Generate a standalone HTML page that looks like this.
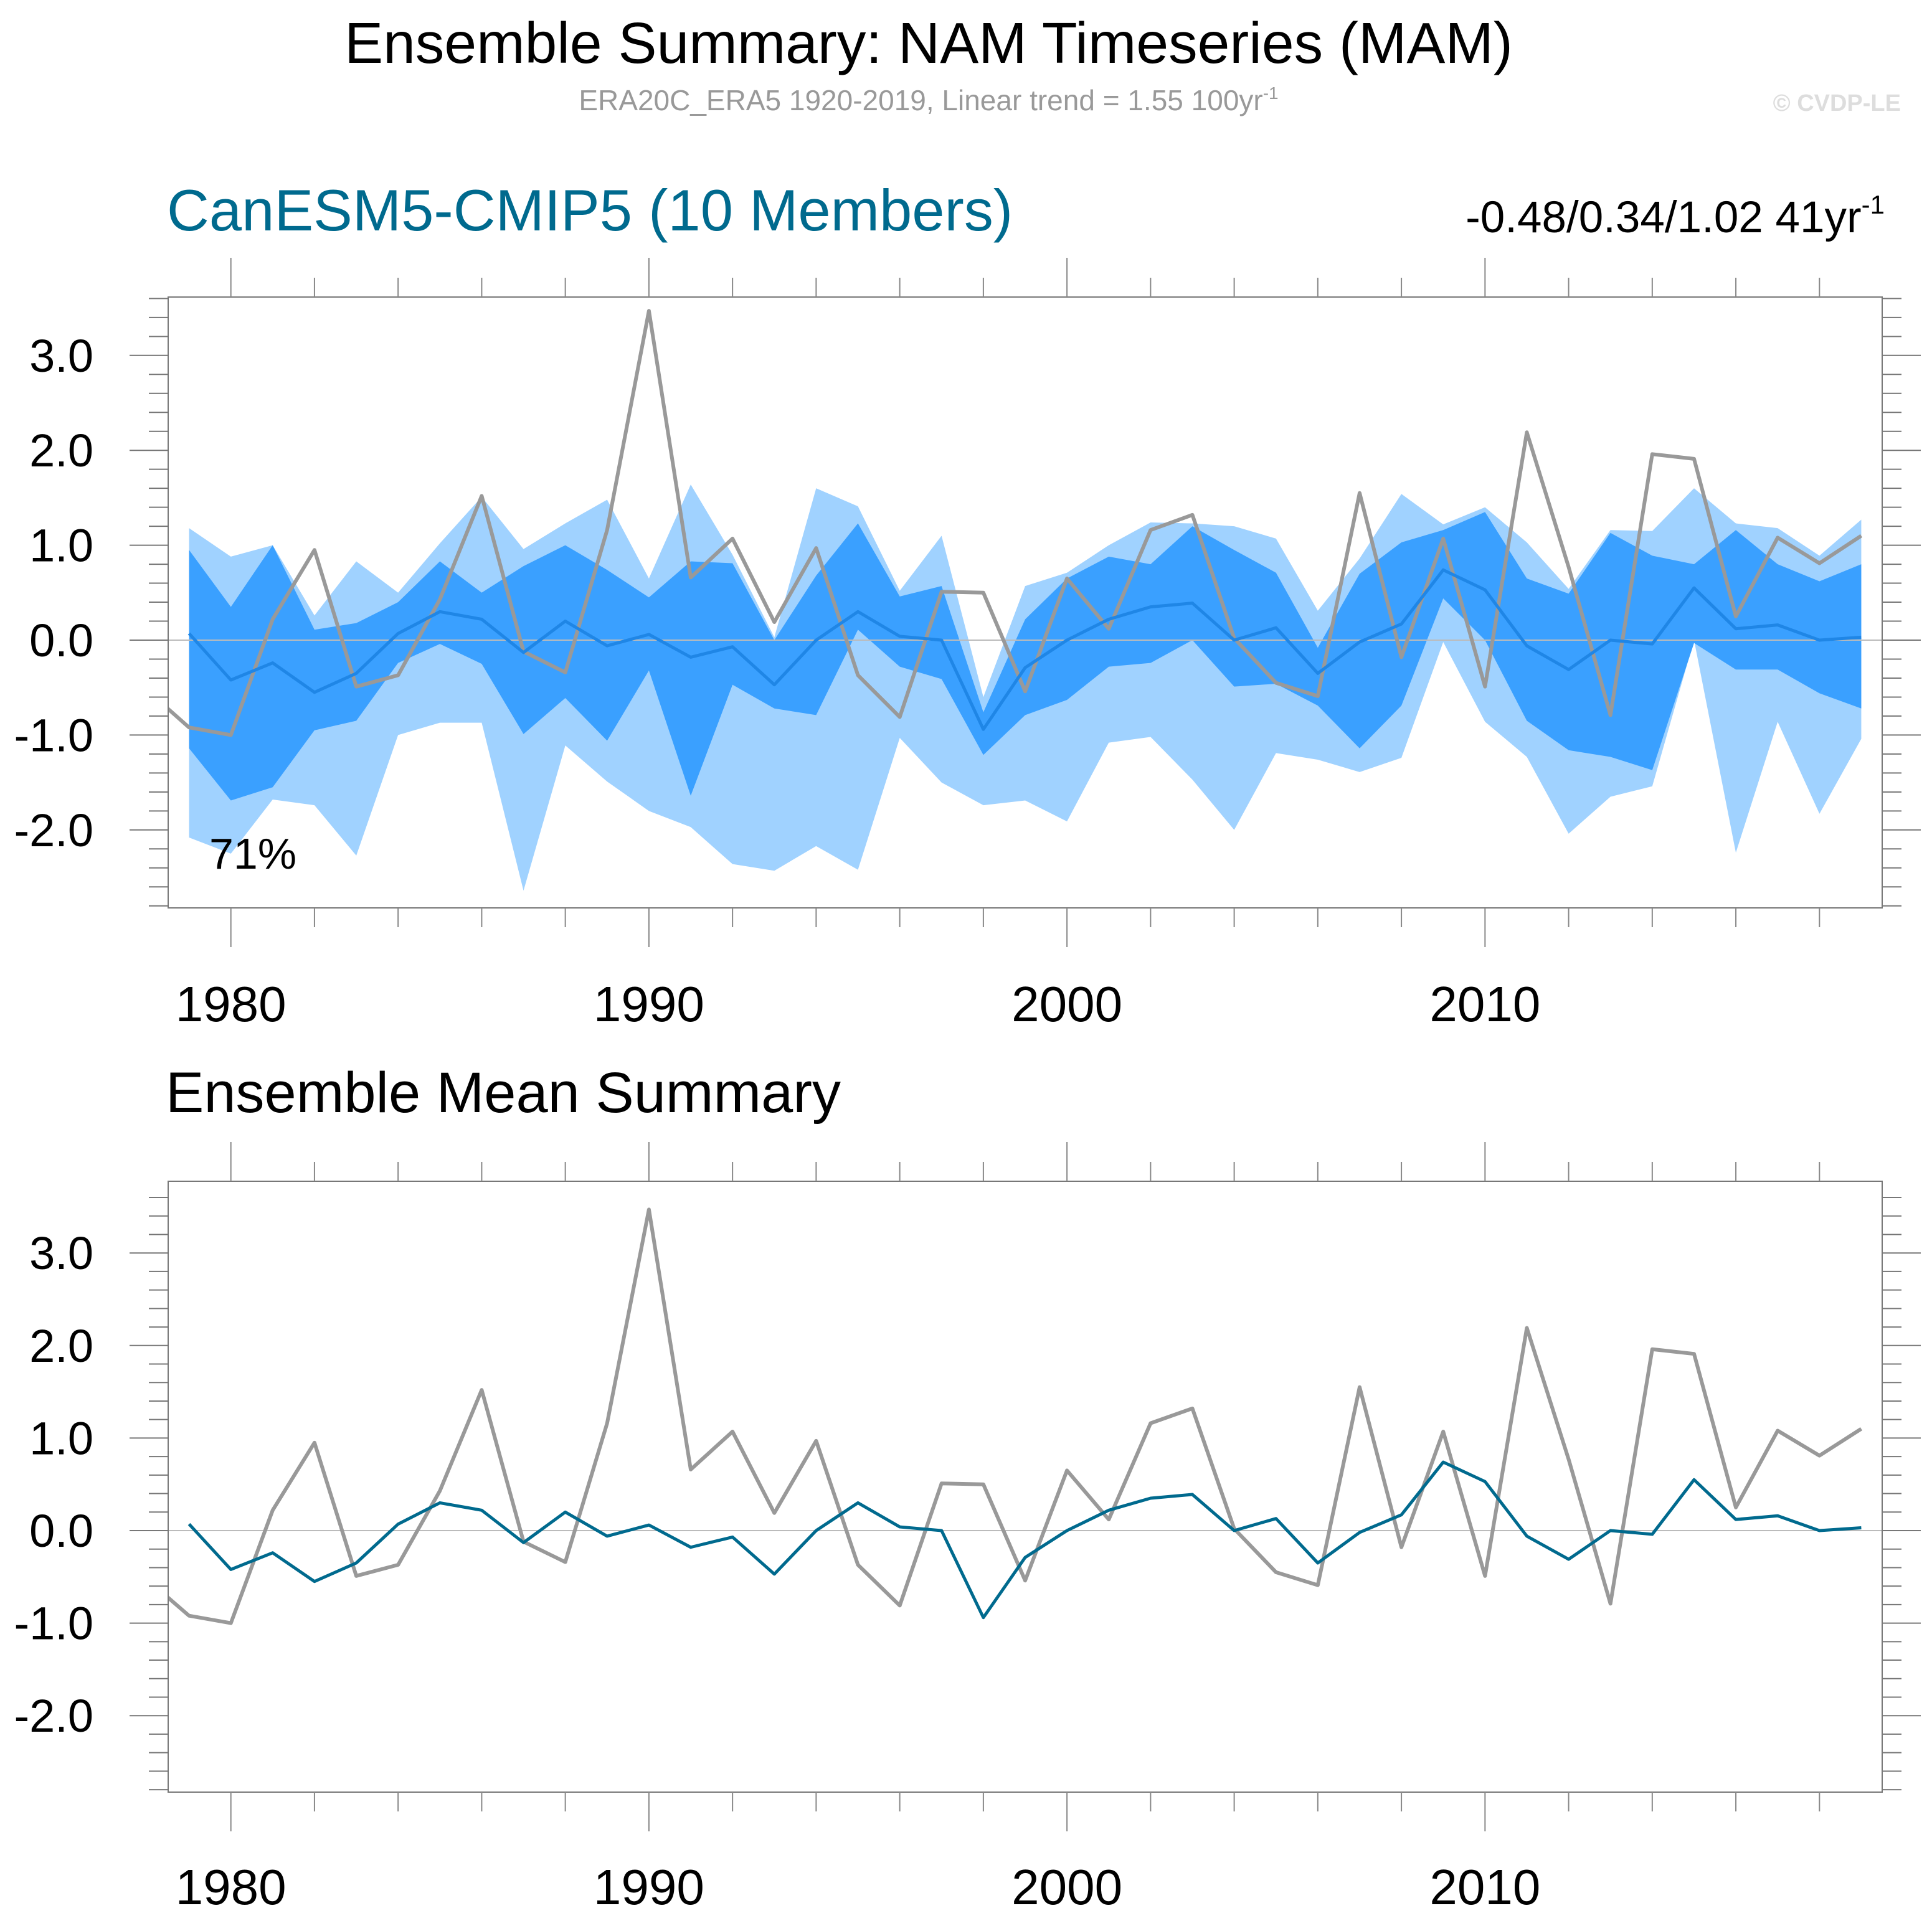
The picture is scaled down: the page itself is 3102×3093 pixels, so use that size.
<!DOCTYPE html>
<html><head><meta charset="utf-8"><style>
html,body{margin:0;padding:0;background:#fff;}
svg{display:block;font-family:"Liberation Sans",Arial,sans-serif;}
</style></head><body>
<svg id="chart" width="3102" height="3093" viewBox="0 0 3102 3093" xmlns="http://www.w3.org/2000/svg">
<text x="1491" y="101" font-size="93" text-anchor="middle" fill="#000">Ensemble Summary: NAM Timeseries (MAM)</text>
<text x="1491" y="177" font-size="46" text-anchor="middle" fill="#999">ERA20C_ERA5 1920-2019, Linear trend = 1.55 100yr<tspan dy="-18" font-size="28">-1</tspan></text>
<text x="3052" y="178" font-size="38" font-weight="bold" text-anchor="end" fill="#ddd">© CVDP-LE</text>
<text x="268" y="370" font-size="94" fill="#006a8e">CanESM5-CMIP5 (10 Members)</text>
<text x="3026" y="373" font-size="71" text-anchor="end" fill="#000">-0.48/0.34/1.02 41yr<tspan dy="-30" font-size="42">-1</tspan></text>
<text x="266" y="1786" font-size="92" fill="#000">Ensemble Mean Summary</text>
<g id="top"></g>
<g id="bot"></g>
</svg>
<script>
const years = [1979,1980,1981,1982,1983,1984,1985,1986,1987,1988,1989,1990,1991,1992,1993,1994,1995,1996,1997,1998,1999,2000,2001,2002,2003,2004,2005,2006,2007,2008,2009,2010,2011,2012,2013,2014,2015,2016,2017,2018,2019];
const ensMean = [0.07,-0.42,-0.24,-0.55,-0.35,0.07,0.30,0.22,-0.13,0.20,-0.06,0.06,-0.18,-0.07,-0.47,0.0,0.30,0.04,0.0,-0.94,-0.29,0.0,0.22,0.35,0.39,0.0,0.13,-0.35,-0.02,0.17,0.74,0.53,-0.06,-0.31,0.0,-0.04,0.55,0.12,0.16,0.0,0.03];
const obsYears = [1978,1979,1980,1981,1982,1983,1984,1985,1986,1987,1988,1989,1990,1991,1992,1993,1994,1995,1996,1997,1998,1999,2000,2001,2002,2003,2004,2005,2006,2007,2008,2009,2010,2011,2012,2013,2014,2015,2016,2017,2018,2019];
const obs = [-0.53,-0.92,-1.0,0.22,0.95,-0.49,-0.37,0.43,1.52,-0.12,-0.34,1.16,3.47,0.66,1.07,0.19,0.97,-0.37,-0.81,0.51,0.50,-0.54,0.65,0.12,1.16,1.32,0.02,-0.45,-0.59,1.55,-0.18,1.07,-0.49,2.19,0.77,-0.79,1.96,1.91,0.25,1.08,0.81,1.10];
const bandMax = [1.18,0.88,1.0,0.26,0.83,0.50,1.02,1.51,0.96,1.23,1.48,0.65,1.64,0.90,0.03,1.60,1.41,0.52,1.10,-0.6,0.57,0.71,1.0,1.24,1.23,1.20,1.07,0.31,0.86,1.54,1.22,1.40,1.03,0.54,1.16,1.15,1.60,1.23,1.18,0.89,1.27];
const bandUpper = [0.95,0.35,1.0,0.11,0.18,0.40,0.83,0.50,0.78,1.0,0.74,0.45,0.83,0.81,0.0,0.68,1.23,0.46,0.57,-0.76,0.22,0.65,0.88,0.80,1.20,0.95,0.71,-0.08,0.70,1.03,1.16,1.35,0.65,0.49,1.13,0.89,0.80,1.16,0.80,0.62,0.80];
const bandLower = [-1.14,-1.69,-1.55,-0.95,-0.85,-0.24,-0.04,-0.25,-0.99,-0.61,-1.06,-0.32,-1.64,-0.47,-0.72,-0.79,0.11,-0.28,-0.41,-1.21,-0.79,-0.63,-0.28,-0.24,0.0,-0.49,-0.46,-0.69,-1.14,-0.69,0.44,0.0,-0.85,-1.16,-1.23,-1.37,-0.03,-0.31,-0.31,-0.56,-0.72];
const bandMin = [-2.08,-2.25,-1.68,-1.74,-2.27,-1.0,-0.87,-0.87,-2.64,-1.11,-1.49,-1.80,-1.97,-2.36,-2.43,-2.17,-2.42,-1.03,-1.50,-1.74,-1.69,-1.91,-1.08,-1.02,-1.47,-2.0,-1.19,-1.26,-1.39,-1.24,-0.02,-0.86,-1.23,-2.04,-1.65,-1.54,0.0,-2.24,-0.86,-1.83,-1.04];
const yTickLabels = ["-2.0","-1.0","0.0","1.0","2.0","3.0"];
const yTickValues = [-2,-1,0,1,2,3];
const xTickLabels = ["1980","1990","2000","2010"];
const xTickValues = [1980,1990,2000,2010];

const NS="http://www.w3.org/2000/svg";
function mk(parent,tag,attrs){const e=document.createElementNS(NS,tag);for(const k in attrs)e.setAttribute(k,attrs[k]);parent.appendChild(e);return e;}

function panel(g,cfg){
  const L=270,R=3022,T=cfg.top,B=cfg.bottom;
  const x0=1978.5,x1=2019.5;
  const sx=v=>L+(v-x0)/(x1-x0)*(R-L);
  const sy=v=>cfg.zero-v*cfg.unit;
  const cid='clip'+cfg.id;
  const defs=mk(g,'defs',{});
  const cp=mk(defs,'clipPath',{id:cid});
  mk(cp,'rect',{x:L,y:T,width:R-L,height:B-T});
  const plot=mk(g,'g',{'clip-path':'url(#'+cid+')'});
  
  
  if(cfg.bands){
    const poly=(up,lo,col,name)=>{
      let pts=years.map((y,i)=>sx(y)+','+sy(up[i]));
      for(let i=years.length-1;i>=0;i--)pts.push(sx(years[i])+','+sy(lo[i]));
      const p=mk(plot,'polygon',{points:pts.join(' '),fill:col});
      
      
    };
    poly(bandMax,bandMin,'#a0d2ff','ensemble-range-band');
    poly(bandUpper,bandLower,'#3aa0ff','ensemble-interquartile-band');
  }
  const zl=mk(plot,'line',{x1:L,x2:R,y1:sy(0),y2:sy(0),stroke:'#bbb','stroke-width':2});
  
  
  const ol=mk(plot,'polyline',{points:obsYears.map((y,i)=>sx(y)+','+sy(obs[i])).join(' '),fill:'none',stroke:'#999','stroke-width':6,'stroke-linejoin':'round'});
  
  
  const ml=mk(plot,'polyline',{points:years.map((y,i)=>sx(y)+','+sy(ensMean[i])).join(' '),fill:'none',stroke:cfg.meanColor,'stroke-width':5,'stroke-linejoin':'round'});
  
  
  const fr=mk(g,'rect',{x:L,y:T,width:R-L,height:B-T,fill:'none',stroke:'#777','stroke-width':2});
  
  
  for(let v=-2.8;v<=3.81;v+=0.2){
    const vv=Math.round(v*10)/10; const y=sy(vv);
    if(y<T-1||y>B+1)continue;
    const major=Math.abs(vv-Math.round(vv))<1e-6;
    const len=major?62:31;
    mk(g,'line',{x1:L-len,x2:L,y1:y,y2:y,stroke:'#777','stroke-width':2});
    mk(g,'line',{x1:R,x2:R+len,y1:y,y2:y,stroke:'#777','stroke-width':2});
  }
  yTickValues.forEach((v,i)=>{
    const t=mk(g,'text',{x:150,y:sy(v)+26,'font-size':74,'text-anchor':'end',fill:'#000'});
    t.textContent=yTickLabels[i];
    
    
  });
  for(let yr=1980;yr<=2018;yr+=2){
    const x=sx(yr); const major=yr%10===0; const len=major?63:31;
    mk(g,'line',{x1:x,x2:x,y1:T-len,y2:T,stroke:'#888','stroke-width':2});
    mk(g,'line',{x1:x,x2:x,y1:B,y2:B+len,stroke:'#888','stroke-width':2});
  }
  xTickValues.forEach((v,i)=>{
    const t=mk(g,'text',{x:sx(v),y:cfg.xlab,'font-size':80,'text-anchor':'middle',fill:'#000'});
    t.textContent=xTickLabels[i];
    
    
  });
  if(cfg.bands){
    const t=mk(g,'text',{x:336,y:1395,'font-size':70,fill:'#000'});
    t.textContent='71%';
    
    
  }
}
panel(document.getElementById('top'),{id:'top',top:477,bottom:1458,zero:1028,unit:152.4,bands:true,meanColor:'#1f86e6',xlab:1640});
panel(document.getElementById('bot'),{id:'bot',top:1897,bottom:2878,zero:2458,unit:148.6,bands:false,meanColor:'#006a8e',xlab:3058});
</script>
</body></html>
